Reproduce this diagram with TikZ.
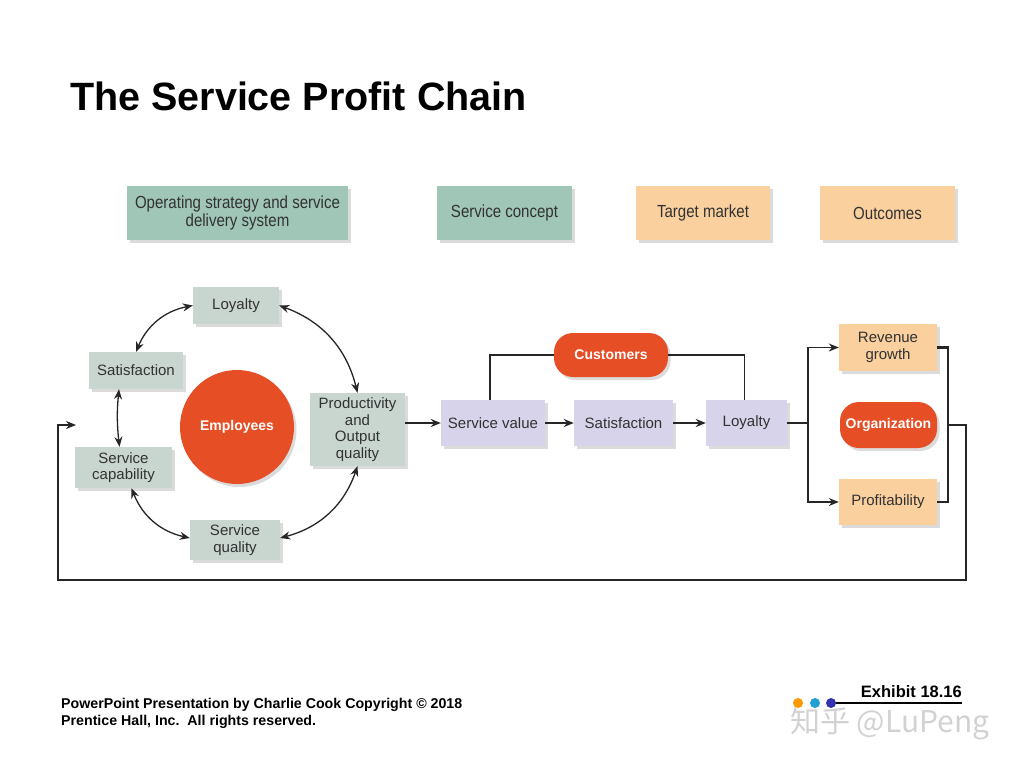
\documentclass[tikz,border=0pt]{standalone}
\usepackage{fontspec}
\setmainfont{Liberation Sans}
\newfontfamily\narrowsans[FakeStretch=0.86]{Liberation Sans}
\newfontfamily\cjk{Noto Sans CJK SC}
\usetikzlibrary{arrows.meta,shadows,positioning}
\definecolor{topgreen}{RGB}{160,198,184}
\definecolor{ringgrey}{RGB}{201,214,208}
\definecolor{chainlilac}{RGB}{215,211,234}
\definecolor{outorange}{RGB}{249,208,158}
\definecolor{hotred}{RGB}{230,78,38}
\definecolor{boxtext}{RGB}{50,50,50}
\begin{document}
\begin{tikzpicture}[x=1pt, y=-1pt, >={Stealth[length=10pt,width=8pt]},
    box/.style={align=center, inner sep=2pt, text=boxtext,
        font=\fontsize{15}{16.5}\selectfont,
        drop shadow={shadow xshift=2.5pt, shadow yshift=-3pt, opacity=0.28}},
    topbox/.style={box, font=\narrowsans\fontsize{17.5}{18}\selectfont},
    hotbox/.style={box, fill=hotred, text=white, font=\bfseries\fontsize{14}{16}\selectfont},
    link/.style={draw=black!85, line width=1.4pt},
    chain/.style={link, ->, line width=2pt},
    ring/.style={link, <->, line width=1.3pt}]
    \fill[white] (0,0) rectangle (1024,768);
    \useasboundingbox (0,0) rectangle (1024,768);

    % Title
    \node[anchor=base west, inner sep=0, font=\bfseries\fontsize{39.5}{44}\selectfont] (title) at (70,110) {The Service Profit Chain};

    % Top row: headings
    \node[topbox, fill=topgreen, minimum width=221, minimum height=54] (ops) at (237.5,213) {Operating strategy and service\\delivery system};
    \node[topbox, fill=topgreen, minimum width=135, minimum height=54] (concept) at (504.5,213) {Service concept};
    \node[topbox, fill=outorange, minimum width=134, minimum height=54] (target) at (703,213) {Target market};
    \node[topbox, fill=outorange, minimum width=135, minimum height=54] (outcomes) at (887.5,213) {Outcomes};

    % Left: employee ring
    \node[box, fill=ringgrey, minimum width=86, minimum height=37] (loyA) at (236,305.5) {Loyalty};
    \node[box, fill=ringgrey, minimum width=94, minimum height=37] (satA) at (136,370.5) {Satisfaction};
    \node[box, fill=ringgrey, minimum width=95, minimum height=73] (prod) at (357.5,429.5) {Productivity\\and\\Output\\quality};
    \node[box, fill=ringgrey, minimum width=97, minimum height=41] (capab) at (123.5,467.5) {Service\\capability};
    \node[box, fill=ringgrey, minimum width=90, minimum height=40] (qual) at (235,540) {Service\\quality};
    \node[hotbox, circle, minimum size=114] (emp) at (237,427) {Employees};
    \draw[ring] (loyA.west) to[bend right=28] (satA.north);
    \draw[ring] ([xshift=-17]satA.south) to[bend right=6] ([xshift=-4]capab.north);
    \draw[ring] ([xshift=8]capab.south) to[bend right=28] ([yshift=2]qual.west);
    \draw[ring] ([yshift=2]qual.east) to[bend right=28] (prod.south);
    \draw[ring] (prod.north) to[bend right=28] (loyA.east);

    % Middle: customer chain
    \node[box, fill=chainlilac, minimum width=104, minimum height=46] (value) at (493,423) {Service value};
    \node[box, fill=chainlilac, minimum width=99, minimum height=46] (satB) at (623.5,423) {Satisfaction};
    \node[box, fill=chainlilac, minimum width=81, minimum height=46] (loyB) at (746.5,423) {Loyalty};
    \node[hotbox, rounded corners=19, minimum width=114, minimum height=44] (cust) at (611,355) {Customers};
    \draw[chain] (prod.east |- value.west) -- (value.west);
    \draw[chain] (value) -- (satB);
    \draw[chain] (satB) -- (loyB);
    \draw[link] ([xshift=-3]value.north) |- (cust.west);
    \draw[link] (cust.east) -| ([xshift=-2]loyB.north);

    % Right: outcomes
    \node[box, fill=outorange, minimum width=98, minimum height=47] (rev) at (888,347.5) {Revenue\\growth};
    \node[hotbox, rounded corners=19, minimum width=97, minimum height=46] (org) at (888.5,425) {Organization};
    \node[box, fill=outorange, minimum width=98, minimum height=46] (prof) at (888,502) {Profitability};
    \coordinate (split) at (808,423);
    \coordinate (join) at (948,425);
    \draw[link, line width=2pt] (loyB.east) -- (split);
    \draw[link, ->] (split) |- (rev.west);
    \draw[link, ->] (split) |- (prof.west);
    \draw[link, line width=2.4pt] (rev.east) -| (join);
    \draw[link, line width=2.4pt] (prof.east) -| (join);

    % Feedback loop
    \coordinate (backR) at (966,580);
    \coordinate (backL) at (58,580);
    \coordinate (backEnd) at (76,425);
    \draw[link, ->] (join) -| (backR) -- (backL) |- (backEnd);

    % Footer
    \node[anchor=base west, inner sep=0, font=\bfseries\fontsize{14.2}{15}\selectfont] (creditA) at (61,708) {PowerPoint Presentation by Charlie Cook Copyright \textcopyright{} 2018};
    \node[anchor=base west, inner sep=0, font=\bfseries\fontsize{14.2}{15}\selectfont] (creditB) at (61,725) {Prentice Hall, Inc.\ \ All rights reserved.};
    \node[anchor=base east, inner sep=0, font=\bfseries\fontsize{16.5}{18}\selectfont] (exhibit) at (962,697) {Exhibit 18.16};
    \draw[line width=2.2pt] ([yshift=-6pt]exhibit.base east) -- ++(-127,0);
    \fill[orange!80!yellow] (798,703) circle (5);
    \fill[cyan!70!teal] (815,703) circle (5);
    \fill[blue!60!black!80] (831,703) circle (5);
    \node[anchor=base west, inner sep=0, text=gray!35, font=\cjk\fontsize{30}{32}\selectfont] (mark) at (790,732) {知乎 @LuPeng};
\end{tikzpicture}
\end{document}
